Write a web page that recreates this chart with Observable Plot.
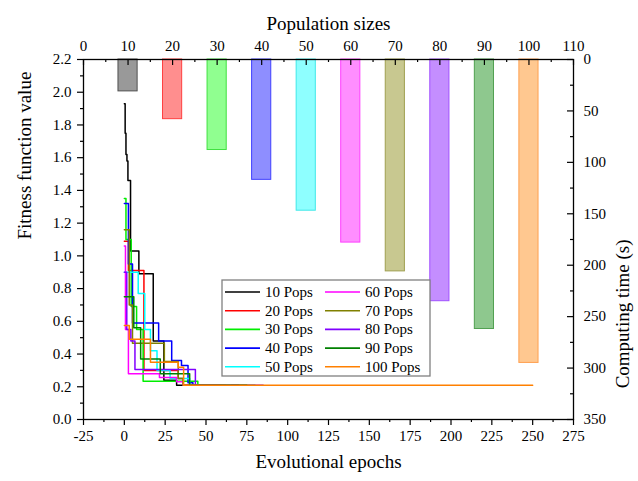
<!DOCTYPE html>
<html><head><meta charset="utf-8">
<script src="https://cdn.jsdelivr.net/npm/d3@7"></script>
<script src="https://cdn.jsdelivr.net/npm/@observablehq/plot@0.6"></script>
<style>
body{margin:0;background:#fff;}
#chart{position:relative;width:638px;height:481px;}
#chart svg{position:absolute;left:0;top:0;}
#chart svg, #chart svg text{font-family:"Liberation Serif","DejaVu Serif",serif !important;}
</style></head><body><div id="chart"></div>
<script>
// ---- data ----
const seriesNames = ["10 Pops","20 Pops","30 Pops","40 Pops","50 Pops","60 Pops","70 Pops","80 Pops","90 Pops","100 Pops"];
const seriesColors = ["#000000","#ff0000","#00ee00","#0000ff","#00ffff","#ff00ff","#808000","#8000ff","#008000","#ff8000"];

const epochs10 = [0, 0.5, 1, 1.6, 2.2, 3.8, 8.9, 17.7, 24.2, 32, 60];
const fitness10 = [1.93, 1.75, 1.62, 1.58, 1.46, 1.03, 0.89, 0.48, 0.24, 0.21, 0.21];
const epochs20 = [0, 2.5, 12, 33, 36, 55];
const fitness20 = [1.09, 0.91, 0.30, 0.25, 0.21, 0.21];
const epochs30 = [0, 1, 4.2, 7.5, 11.5, 45, 80];
const fitness30 = [1.35, 1.10, 0.69, 0.55, 0.233, 0.21, 0.21];
const epochs40 = [0, 2.5, 5, 21, 29, 35, 39, 42, 70];
const fitness40 = [1.32, 0.95, 0.59, 0.48, 0.36, 0.33, 0.225, 0.21, 0.21];
const epochs50 = [0, 8.5, 12.5, 16, 20, 28, 40, 65];
const fitness50 = [0.90, 0.77, 0.55, 0.42, 0.30, 0.25, 0.21, 0.21];
const epochs60 = [0, 0.7, 2.5, 21.5, 32, 36, 58];
const fitness60 = [1.06, 0.55, 0.28, 0.256, 0.23, 0.21, 0.21];
const epochs70 = [0, 3, 5, 24.5, 33, 36, 62];
const fitness70 = [1.16, 0.70, 0.466, 0.355, 0.25, 0.21, 0.21];
const epochs80 = [0, 1.5, 4, 6.5, 43.5, 85];
const fitness80 = [0.90, 0.55, 0.48, 0.305, 0.21, 0.21];
const epochs90 = [0, 5.8, 10, 22, 40, 75];
const fitness90 = [0.75, 0.56, 0.37, 0.28, 0.21, 0.21];
const epochs100 = [0, 3, 16, 33, 36.3, 250];
const fitness100 = [0.575, 0.49, 0.35, 0.32, 0.21, 0.21];

const popSizes = [10, 20, 30, 40, 50, 60, 70, 80, 90, 100];
const computingTimes = [31, 58, 88, 117, 147, 178, 206, 235, 262, 295];
const barFills = ["#999999","#ff8e8e","#90ff90","#8e8eff","#8effff","#ff8eff","#c8c890","#c48eff","#8ec88e","#ffc890"];
const barStrokes = ["#505050","#ff4040","#40e040","#4040ff","#40e8e8","#ff40ff","#a0a050","#a050ff","#50a050","#ffa050"];

const epochTicks = [-25, 0, 25, 50, 75, 100, 125, 150, 175, 200, 225, 250, 275];
const fitnessTicks = [0, 0.2, 0.4, 0.6, 0.8, 1.0, 1.2, 1.4, 1.6, 1.8, 2.0, 2.2];
const popTicks = [0, 10, 20, 30, 40, 50, 60, 70, 80, 90, 100, 110];
const timeTicks = [0, 50, 100, 150, 200, 250, 300, 350];

// ---- layout ----
const W = 638, H = 481, ML = 83, MR = 65, MT = 59, MB = 62;
const innerW = W - ML - MR, innerH = H - MT - MB;
const FONT = "Liberation Serif, DejaVu Serif, serif";

const allEpochs = [epochs10,epochs20,epochs30,epochs40,epochs50,epochs60,epochs70,epochs80,epochs90,epochs100];
const allFitness = [fitness10,fitness20,fitness30,fitness40,fitness50,fitness60,fitness70,fitness80,fitness90,fitness100];
const lineRows = [];
seriesNames.forEach((s, i) => allEpochs[i].forEach((e, j) => lineRows.push({series: s, epoch: e, fitness: allFitness[i][j]})));
const barRows = popSizes.map((p, i) => ({pop: p, time: computingTimes[i], fill: barFills[i], stroke: barStrokes[i]}));

const mid = a => a.slice(0, -1).map((t, i) => (t + a[i + 1]) / 2);
const epochMinor = mid(epochTicks), fitnessMinor = mid(fitnessTicks), popMinor = mid(popTicks), timeMinor = mid(timeTicks);

const common = {width: W, height: H, marginLeft: ML, marginRight: MR, marginTop: MT, marginBottom: MB,
  style: {background: "transparent", fontFamily: FONT, fontSize: "15px", color: "#000", overflow: "visible"}};

// ---- bars plot (top / right axes) ----
const barsPlot = Plot.plot({
  ...common,
  x: {domain: [0, 110]},
  y: {domain: [0, 350], reverse: true},
  color: {type: "identity"},
  marks: [
    Plot.rect(barRows, {x1: d => d.pop - 2.15, x2: d => d.pop + 2.15, y1: d => 0, y2: "time", fill: "fill", stroke: "stroke", strokeWidth: 1}),
    Plot.tickX(popTicks, {x: d => d, insetBottom: innerH - 6, stroke: "#000", strokeWidth: 1.2}),
    Plot.tickX(popMinor, {x: d => d, insetBottom: innerH - 3, stroke: "#000", strokeWidth: 1.2}),
    Plot.tickY(timeTicks, {y: d => d, insetLeft: innerW - 6, stroke: "#000", strokeWidth: 1.2}),
    Plot.tickY(timeMinor, {y: d => d, insetLeft: innerW - 3, stroke: "#000", strokeWidth: 1.2}),
    Plot.axisX({anchor: "top", ticks: popTicks, tickSize: 0, tickPadding: 9, tickFormat: d => String(d), label: null}),
    Plot.axisY({anchor: "right", ticks: timeTicks, tickSize: 0, tickPadding: 10, tickFormat: d => String(d), label: null}),
    Plot.text(["Population sizes"], {text: d => d, frameAnchor: "top", dy: -43, fontSize: 19}),
    Plot.text(["Computing time (s)"], {text: d => d, frameAnchor: "right", dx: 49, rotate: -90, fontSize: 19})
  ]
});

// ---- lines plot (bottom / left axes) ----
const linesPlot = Plot.plot({
  ...common,
  x: {domain: [-25, 275]},
  y: {domain: [0, 2.2]},
  color: {domain: seriesNames, range: seriesColors},
  marks: [
    Plot.line(lineRows, {x: "epoch", y: "fitness", z: "series", stroke: "series", curve: "step-after", strokeWidth: 1.5}),
    Plot.axisX({anchor: "bottom", ticks: epochTicks, tickSize: 6, tickPadding: 5, tickFormat: d => String(d), label: null, strokeWidth: 1.2}),
    Plot.axisX({anchor: "bottom", ticks: epochMinor, tickSize: 3, tickFormat: () => "", label: null, strokeWidth: 1.2}),
    Plot.axisY({anchor: "left", ticks: fitnessTicks, tickSize: 6, tickPadding: 6, tickFormat: d3.format(".1f"), label: null, strokeWidth: 1.2}),
    Plot.axisY({anchor: "left", ticks: fitnessMinor, tickSize: 3, tickFormat: () => "", label: null, strokeWidth: 1.2}),
    Plot.frame({stroke: "#000", strokeWidth: 1.3}),
    Plot.text(["Evolutional epochs"], {text: d => d, frameAnchor: "bottom", dy: 48, fontSize: 19}),
    Plot.text(["Fitness function value"], {text: d => d, frameAnchor: "left", dx: -59, rotate: -90, fontSize: 19})
  ]
});

const chart = document.getElementById("chart");
chart.appendChild(barsPlot);
chart.appendChild(linesPlot);

// ---- legend ----
const lg = d3.select(linesPlot).append("g").attr("font-size", 15).attr("text-anchor", "start");
const lx = 222, ly = 280, lw = 208, lh = 96, rowH = 18.7;
lg.append("rect").attr("x", lx).attr("y", ly).attr("width", lw).attr("height", lh)
  .attr("fill", "#fff").attr("stroke", "#808080").attr("stroke-width", 1.3);
seriesNames.forEach((s, i) => {
  const col = Math.floor(i / 5), row = i % 5;
  const x0 = lx + 3 + col * 100, yc = ly + 12 + row * rowH;
  lg.append("line").attr("x1", x0).attr("x2", x0 + 35).attr("y1", yc).attr("y2", yc)
    .attr("stroke", seriesColors[i]).attr("stroke-width", 1.6);
  lg.append("text").attr("x", x0 + 40).attr("y", yc).attr("dy", "0.33em")
    .attr("text-anchor", "start").attr("fill", "#000").text(s);
});
</script></body></html>
